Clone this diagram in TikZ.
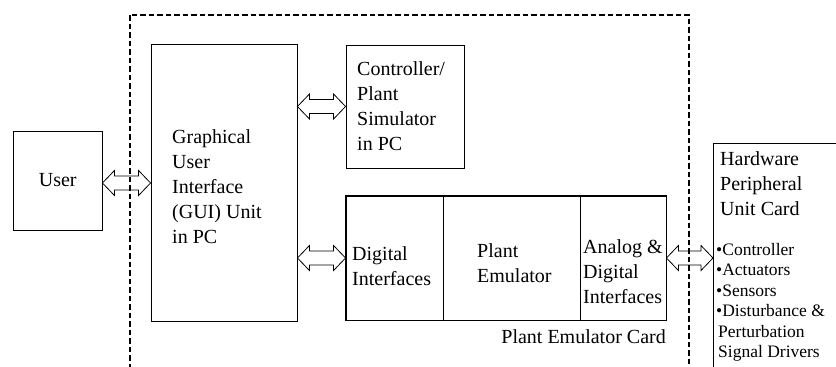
\documentclass[tikz,border=0pt]{standalone}
\usepackage{fontspec}
\setmainfont{Liberation Serif}
\usetikzlibrary{calc}
\tikzset{
  blk/.style={draw,rectangle,inner sep=0pt,line width=0.9pt},
  txt/.style={font=\fontsize{20}{25}\selectfont,align=left,inner sep=0pt},
  lst/.style={font=\fontsize{17.5}{20.5}\selectfont,align=left,inner sep=0pt},
  bus/.style={draw,line width=0.8pt,to path={let \p1=(\tikztostart),\p2=(\tikztotarget) in
    (\x1,\y1) -- (\x1+12pt,\y1+12.5pt) -- (\x1+12pt,\y1+7pt) -- (\x2-12pt,\y1+7pt) -- (\x2-12pt,\y1+12.5pt)
    -- (\x2,\y1) -- (\x2-12pt,\y1-12.5pt) -- (\x2-12pt,\y1-7pt) -- (\x1+12pt,\y1-7pt) -- (\x1+12pt,\y1-12.5pt) -- cycle}},
  border/.style={draw,line width=1.5pt,dash pattern=on 5.5pt off 3pt},
}

\begin{document}
\begin{tikzpicture}[x=1pt,y=-1pt]
  \useasboundingbox (0,0) rectangle (836,367);
  \clip (0,0) rectangle (836,367);
  \node[blk,txt,minimum width=88.5pt,minimum height=99pt] (user) at (57.75,180.5) {User};
  \node[blk,minimum width=146pt,minimum height=277pt] (gui) at (224,182.5) {};
  \node[blk,minimum width=118pt,minimum height=123pt] (ctrl) at (405,106.5) {};
  \node[blk,minimum width=97pt,minimum height=124pt] (dig) at (394.5,258) {};
  \node[blk,minimum width=137pt,minimum height=124pt] (emu) at (511.5,258) {};
  \node[blk,minimum width=86pt,minimum height=124pt] (ana) at (623,258) {};
  \draw[line width=1.6pt] (dig.north west) rectangle (ana.south east);
  \node[blk,anchor=north west,minimum width=150pt,minimum height=260pt] (hw) at (713,143) {};
  \node[txt,anchor=north west] (guitxt) at (172,129.3) {Graphical\\User\\Interface\\(GUI) Unit\\in PC};
  \node[txt,anchor=north west] (ctrltxt) at (357,61.3) {Controller/\\Plant\\Simulator\\in PC};
  \node[txt,anchor=north west] (digtxt) at (352,246.3) {Digital\\Interfaces};
  \node[txt,anchor=north west] (emutxt) at (477,243.3) {Plant\\Emulator};
  \node[txt,anchor=north west] (anatxt) at (583,239.3) {Analog \&\\Digital\\Interfaces};
  \node[txt,anchor=base east] (cardlbl) at (666,343) {Plant Emulator Card};
  \node[txt,anchor=north west] (hwtxt) at (720,151.3) {Hardware\\Peripheral\\Unit Card};
  \node[lst,anchor=north west] (hwlst) at (716,243) {•Controller\\•Actuators\\•Sensors\\•Disturbance \&\\\hspace{2pt}Perturbation\\\hspace{2pt}Signal Drivers};
  \coordinate (ua) at ([yshift=-2.5pt]user.east);
  \draw[bus] (ua) to (gui.west);
  \draw[bus] (gui.east |- ctrl.west) to (ctrl.west);
  \draw[bus] (gui.east |- dig.west) to (dig.west);
  \draw[bus] (ana.east) to (hw.west);
  \draw[border] (130,15) rectangle (689,420);
\end{tikzpicture}
\end{document}
